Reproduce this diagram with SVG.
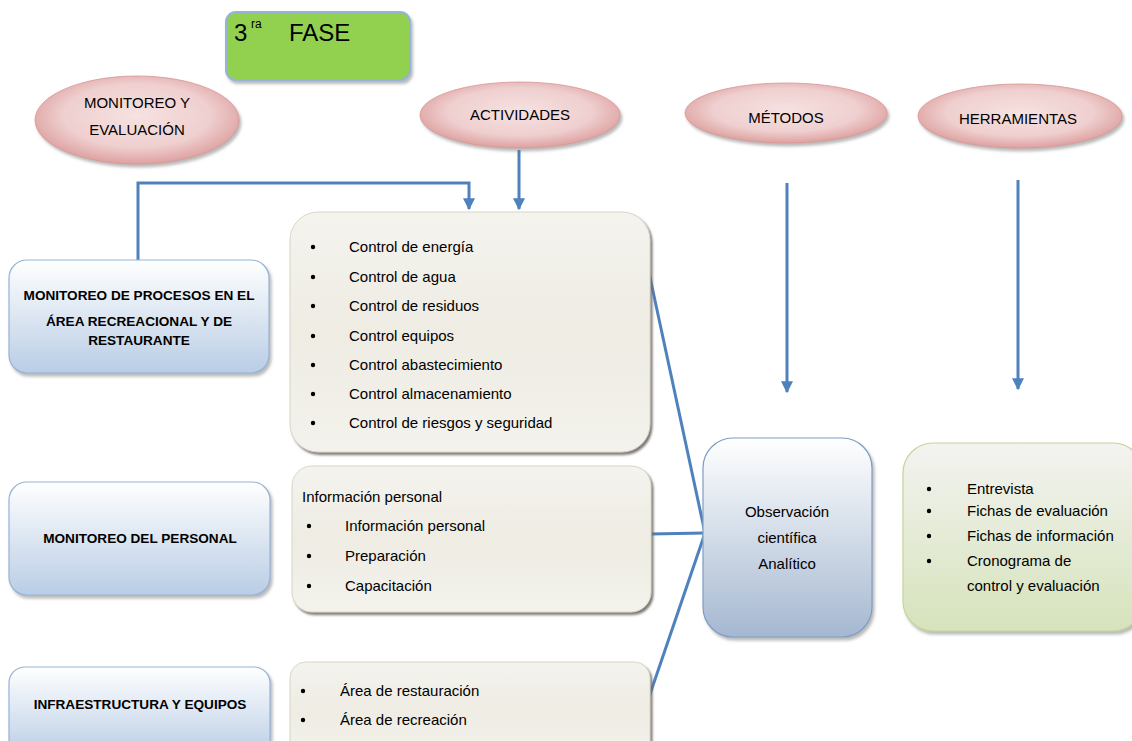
<svg xmlns="http://www.w3.org/2000/svg" width="1132" height="741" viewBox="0 0 1132 741">
  <defs>
    <style>
      text { font-family: "Liberation Sans", Arial, sans-serif; fill: #000; }
      .lbl { font-size: 15px; }
      .hd { font-size: 13.6px; font-weight: bold; text-anchor: middle; }
      .ell { font-size: 15px; text-anchor: middle; }
      .mid { text-anchor: middle; }
      .conn { fill: none; stroke: #4f81bd; stroke-width: 3; }
      .oval { fill: url(#pink); stroke: #d99694; stroke-width: 0.8; filter: url(#sh); }
      .blue { fill: url(#blueG); stroke: #95b3d7; stroke-width: 1.2; filter: url(#sh); }
      .cream { fill: url(#creamG); stroke: #d8d6c8; stroke-width: 1; filter: url(#shDark); }
    </style>
    <radialGradient id="pink" cx="50%" cy="45%" r="60%">
      <stop offset="0" stop-color="#f6e2e1"/>
      <stop offset="0.6" stop-color="#efcfcf"/>
      <stop offset="1" stop-color="#d99594"/>
    </radialGradient>
    <linearGradient id="blueG" x1="0" y1="0" x2="0" y2="1">
      <stop offset="0" stop-color="#ffffff"/>
      <stop offset="1" stop-color="#b9cde5"/>
    </linearGradient>
    <linearGradient id="creamG" x1="0" y1="0" x2="0" y2="1">
      <stop offset="0" stop-color="#f4f3ee"/>
      <stop offset="0.5" stop-color="#eeece3"/>
      <stop offset="1" stop-color="#f3f2ec"/>
    </linearGradient>
    <linearGradient id="obsG" x1="0" y1="0" x2="0" y2="1">
      <stop offset="0" stop-color="#ffffff"/>
      <stop offset="1" stop-color="#a5b8d1"/>
    </linearGradient>
    <linearGradient id="greenG" x1="0" y1="0" x2="0" y2="1">
      <stop offset="0" stop-color="#f3f3f1"/>
      <stop offset="1" stop-color="#d6e3bb"/>
    </linearGradient>
    <filter id="sh" x="-10%" y="-10%" width="125%" height="130%">
      <feDropShadow dx="2" dy="3" stdDeviation="1.5" flood-color="#8c8c8c" flood-opacity="0.6"/>
    </filter>
    <filter id="shDark" x="-10%" y="-10%" width="125%" height="130%">
      <feDropShadow dx="2" dy="2.5" stdDeviation="0.8" flood-color="#6e6c66" flood-opacity="0.9"/>
    </filter>
    <marker id="arr" viewBox="0 0 10 10" refX="9" refY="5" markerWidth="4" markerHeight="4" orient="auto">
      <path d="M0,0 L10,5 L0,10 Z" fill="#4f81bd"/>
    </marker>
  </defs>

  <rect width="1132" height="741" fill="#ffffff"/>

  <!-- phase title -->
  <g id="fase">
    <rect x="226" y="12" width="184" height="68" rx="10" fill="#92d050" stroke="#95b3d7" stroke-width="2" filter="url(#sh)"/>
    <text x="234" y="41" style="font-size:24px">3</text>
    <text x="251" y="28" style="font-size:12px">ra</text>
    <text x="289" y="41" style="font-size:24px">FASE</text>
  </g>

  <!-- heading ovals -->
  <g id="monitoreo-evaluacion">
    <ellipse class="oval" cx="137" cy="120" rx="102" ry="44"/>
    <text class="ell" x="137" y="108">MONITOREO Y</text>
    <text class="ell" x="137" y="135">EVALUACIÓN</text>
  </g>
  <g id="actividades">
    <ellipse class="oval" cx="520" cy="115" rx="100" ry="33"/>
    <text class="ell" x="520" y="120">ACTIVIDADES</text>
  </g>
  <g id="metodos">
    <ellipse class="oval" cx="786" cy="113" rx="101" ry="30"/>
    <text class="ell" x="786" y="123">MÉTODOS</text>
  </g>
  <g id="herramientas">
    <ellipse class="oval" cx="1020" cy="116" rx="102" ry="32"/>
    <text class="ell" x="1018" y="124">HERRAMIENTAS</text>
  </g>

  <!-- connectors -->
  <g id="connectors">
    <path class="conn" d="M138,260 V183 H469 V209" marker-end="url(#arr)"/>
    <path class="conn" d="M519,150 V209" marker-end="url(#arr)"/>
    <path class="conn" d="M787,183 V392" marker-end="url(#arr)"/>
    <path class="conn" d="M1018,180 V389" marker-end="url(#arr)"/>
    <path class="conn" d="M648,268 L705,533"/>
    <path class="conn" d="M650,534 L705,533"/>
    <path class="conn" d="M648,700 L705,533"/>
  </g>

  <!-- left column -->
  <g id="procesos">
    <rect class="blue" x="9" y="260" width="260" height="113" rx="18"/>
    <text class="hd" x="139" y="300">MONITOREO DE PROCESOS EN EL</text>
    <text class="hd" x="139" y="326">ÁREA RECREACIONAL Y DE</text>
    <text class="hd" x="139" y="345">RESTAURANTE</text>
  </g>
  <g id="personal">
    <rect class="blue" x="9" y="482" width="261" height="113" rx="18"/>
    <text class="hd" x="140" y="543">MONITOREO DEL PERSONAL</text>
  </g>
  <g id="infraestructura">
    <rect class="blue" x="9" y="667" width="261" height="90" rx="16"/>
    <text class="hd" x="140" y="709">INFRAESTRUCTURA Y EQUIPOS</text>
  </g>

  <!-- activity lists -->
  <g id="controles">
    <rect class="cream" x="290" y="212" width="360" height="240" rx="28"/>
    <g class="lbl">
      <circle cx="313" cy="247" r="2.2"/><text x="349" y="252">Control de energía</text>
      <circle cx="313" cy="277" r="2.2"/><text x="349" y="282">Control de agua</text>
      <circle cx="313" cy="306" r="2.2"/><text x="349" y="311">Control de residuos</text>
      <circle cx="313" cy="336" r="2.2"/><text x="349" y="341">Control equipos</text>
      <circle cx="313" cy="365" r="2.2"/><text x="349" y="370">Control abastecimiento</text>
      <circle cx="313" cy="394" r="2.2"/><text x="349" y="399">Control almacenamiento</text>
      <circle cx="313" cy="423" r="2.2"/><text x="349" y="428">Control de riesgos y seguridad</text>
    </g>
  </g>
  <g id="info-personal">
    <rect class="cream" x="292" y="466" width="359" height="146" rx="20"/>
    <g class="lbl">
      <text x="302" y="502">Información personal</text>
      <circle cx="309" cy="526" r="2.2"/><text x="345" y="531">Información personal</text>
      <circle cx="309" cy="556" r="2.2"/><text x="345" y="561">Preparación</text>
      <circle cx="309" cy="586" r="2.2"/><text x="345" y="591">Capacitación</text>
    </g>
  </g>
  <g id="areas">
    <rect class="cream" x="290" y="662" width="360" height="95" rx="16"/>
    <g class="lbl">
      <circle cx="303" cy="691" r="2.2"/><text x="340" y="696">Área de restauración</text>
      <circle cx="303" cy="720" r="2.2"/><text x="340" y="725">Área de recreación</text>
    </g>
  </g>

  <!-- method -->
  <g id="observacion">
    <rect x="703" y="438" width="169" height="199" rx="30" fill="url(#obsG)" stroke="#7f9dc4" stroke-width="1.2" filter="url(#sh)"/>
    <g class="lbl mid">
      <text x="787" y="517">Observación</text>
      <text x="787" y="543">científica</text>
      <text x="787" y="569">Analítico</text>
    </g>
  </g>

  <!-- tools -->
  <g id="instrumentos">
    <rect x="903" y="443" width="240" height="188" rx="30" fill="url(#greenG)" stroke="#c3d69b" stroke-width="1.2" filter="url(#sh)"/>
    <g class="lbl">
      <circle cx="929" cy="489" r="2.2"/><text x="967" y="494">Entrevista</text>
      <circle cx="929" cy="511" r="2.2"/><text x="967" y="516">Fichas de evaluación</text>
      <circle cx="929" cy="536" r="2.2"/><text x="967" y="541">Fichas de información</text>
      <circle cx="929" cy="561" r="2.2"/><text x="967" y="566">Cronograma de</text>
      <text x="967" y="591">control y evaluación</text>
    </g>
  </g>
</svg>
